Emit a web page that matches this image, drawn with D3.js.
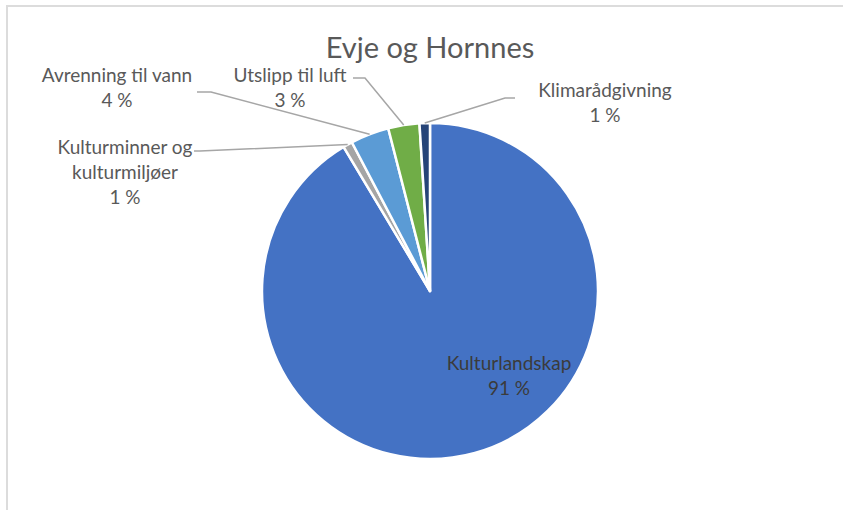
<!DOCTYPE html>
<html>
<head>
<meta charset="utf-8">
<script src="https://cdn.jsdelivr.net/npm/d3@7"></script>
<style>
  body { margin: 0; background: #fff; }
  text { font-family: Lato, "Open Sans", sans-serif; }
</style>
</head>
<body>
<svg id="chart" width="843" height="510"></svg>
<script>
  // data, in slice order (clockwise from 12 o'clock)
  var categories = ["Kulturlandskap", "Kulturminner og kulturmiljøer", "Avrenning til vann", "Utslipp til luft", "Klimarådgivning"];
  var shares = [91.4, 0.9, 3.7, 3.0, 1.0];
  var colors = ["#4472C4", "#A5A5A5", "#5B9BD5", "#70AD47", "#264478"];
  var title = "Evje og Hornnes";

  // label layout: text lines, centre x, first baseline, and where the leader line starts
  var labelLines = [
    ["Kulturlandskap"],
    ["Kulturminner og", "kulturmiljøer"],
    ["Avrenning til vann"],
    ["Utslipp til luft"],
    ["Klimarådgivning"]
  ];
  var labelPos = [
    {x: 509, y: 370, lead: null},
    {x: 125, y: 154, lead: [[194, 151], [200, 151]]},
    {x: 117, y: 82, lead: [[197, 92], [211, 92]]},
    {x: 290, y: 82, lead: [[353, 78], [365, 78]]},
    {x: 605, y: 97, lead: [[515, 98], [505, 98]]}
  ];

  var svg = d3.select("#chart"),
      cx = 430, cy = 291, radius = 168;

  // frame of the chart area (top and left edge visible)
  svg.append("path")
      .attr("d", "M7,510V6H843")
      .attr("fill", "none")
      .attr("stroke", "#dcdcdc")
      .attr("stroke-width", 2);

  svg.append("text")
      .attr("x", cx)
      .attr("y", 58)
      .attr("text-anchor", "middle")
      .attr("font-size", 29)
      .attr("fill", "#595959")
      .text(title);

  var data = categories.map(function(c, i) {
    return {name: c, value: shares[i], color: colors[i], lines: labelLines[i], pos: labelPos[i]};
  });

  var pie = d3.pie()
      .sort(null)
      .value(function(d) { return d.value; });

  var arc = d3.arc().innerRadius(0).outerRadius(radius);
  var edge = d3.arc().innerRadius(radius).outerRadius(radius);

  var g = svg.append("g")
      .attr("transform", "translate(" + cx + "," + cy + ")");

  var arcs = pie(data);

  g.selectAll("path.slice")
      .data(arcs)
    .enter().append("path")
      .attr("class", "slice")
      .attr("d", arc)
      .attr("fill", function(d) { return d.data.color; })
      .attr("stroke", "#fff")
      .attr("stroke-width", 2.5)
      .attr("stroke-linejoin", "round");

  var pct = d3.format(".0f");

  // leader lines
  var line = d3.line();
  arcs.forEach(function(d) {
    if (!d.data.pos.lead) return;
    var c = edge.centroid(d);
    var pts = d.data.pos.lead.concat([[c[0] + cx, c[1] + cy]]);
    svg.append("path")
        .attr("d", line(pts))
        .attr("fill", "none")
        .attr("stroke", "#a6a6a6")
        .attr("stroke-width", 1.5);
  });

  // labels
  arcs.forEach(function(d, i) {
    var lines = d.data.lines.concat([pct(d.data.value) + " %"]);
    var t = svg.append("text")
        .attr("text-anchor", "middle")
        .attr("font-size", 19)
        .attr("fill", i === 0 ? "#3b3b3b" : "#595959");
    lines.forEach(function(s, j) {
      t.append("tspan")
          .attr("x", d.data.pos.x)
          .attr("y", d.data.pos.y + j * 25)
          .text(s);
    });
  });
</script>
</body>
</html>
